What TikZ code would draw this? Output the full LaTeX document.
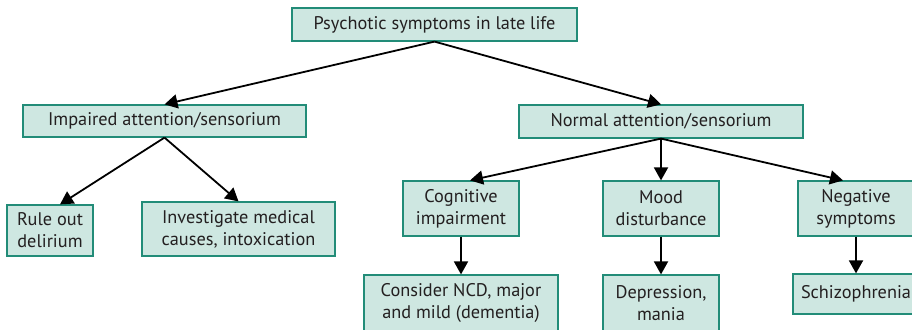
\documentclass[tikz,border=0pt]{standalone}
\usepackage{fontspec}
\setmainfont{PT Sans}
\usetikzlibrary{arrows.meta}
\definecolor{boxfill}{RGB}{206,231,225}
\definecolor{boxline}{RGB}{34,140,120}
\definecolor{txt}{RGB}{35,31,32}
\begin{document}
\begin{tikzpicture}[x=1pt,y=-1pt,
  box/.style={draw=boxline, fill=boxfill, line width=1.2pt, align=center,
    text=txt, inner sep=0pt, font=\fontsize{18.3}{22}\selectfont},
  link/.style={line width=1.8pt, -{Triangle[length=13pt,width=14pt]}}]
\useasboundingbox (0,0) rectangle (912,329);

% top level
\node[box, minimum width=285pt, minimum height=33pt] (top) at (434.5,24.5) {Psychotic symptoms in late life};

% second level
\node[box, minimum width=283pt, minimum height=32pt] (imp) at (164.5,121) {Impaired attention/sensorium};
\node[box, minimum width=284pt, minimum height=33pt] (norm) at (661,121.5) {Normal attention/sensorium};

% third level
\node[box, minimum width=86pt, minimum height=51pt] (rule) at (50,230.5) {Rule out\\delirium};
\node[box, minimum width=193pt, minimum height=54pt] (inv) at (238.5,229) {Investigate medical\\causes, intoxication};
\node[box, minimum width=116pt, minimum height=55pt] (cog) at (461,208.5) {Cognitive\\impairment};
\node[box, minimum width=116pt, minimum height=55pt] (mood) at (661,208.5) {Mood\\disturbance};
\node[box, minimum width=116pt, minimum height=55pt] (neg) at (856,208.5) {Negative\\symptoms};

% fourth level
\node[box, minimum width=194pt, minimum height=56pt] (ncd) at (461,303) {Consider NCD, major\\and mild (dementia)};
\node[box, minimum width=116pt, minimum height=56pt] (dep) at (661,303) {Depression,\\mania};
\node[box, minimum width=126pt, minimum height=40pt] (schiz) at (856,294) {Schizophrenia};

% connectors
\draw[link] (top.south) -- (imp.north);
\draw[link] (top.south) -- (norm.north);
\draw[link] (imp.south) -- ([xshift=10pt]rule.north);
\draw[link] (imp.south) -- (inv.north);
\draw[link] (norm.south) -- ([xshift=9pt]cog.north);
\draw[link] (norm.south) -- (mood.north);
\draw[link] (norm.south) -- ([xshift=-13pt]neg.north);
\draw[link] (cog.south) -- (ncd.north);
\draw[link] (mood.south) -- (dep.north);
\draw[link] (neg.south) -- (schiz.north);
\end{tikzpicture}
\end{document}
